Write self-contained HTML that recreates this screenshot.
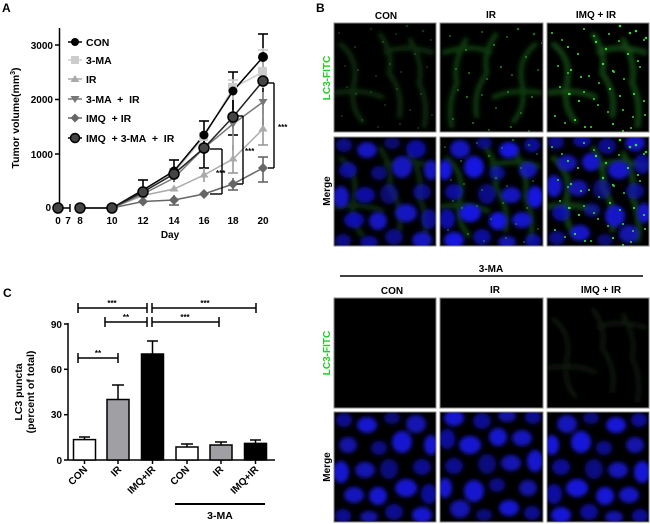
<!DOCTYPE html>
<html><head><meta charset="utf-8"><style>
html,body{margin:0;padding:0;background:#fff;}
svg{display:block;font-family:"Liberation Sans",Arial,sans-serif;font-weight:bold;}
text{white-space:pre;}
</style></head><body>
<svg width="650" height="524" viewBox="0 0 650 524" xmlns="http://www.w3.org/2000/svg">
<defs>
<filter id="bl" x="-10%" y="-10%" width="120%" height="120%"><feGaussianBlur stdDeviation="2"/></filter>
<filter id="bh" x="-10%" y="-10%" width="120%" height="120%"><feGaussianBlur stdDeviation="2.5"/></filter>
<clipPath id="cp"><rect x="0" y="0" width="102" height="109"/></clipPath>
<g id="nuc" filter="url(#bl)">
<ellipse cx="10" cy="8" rx="8" ry="7" opacity="0.7"/><ellipse cx="33" cy="13" rx="10" ry="8"/><ellipse cx="58" cy="6" rx="8" ry="6" opacity="0.6"/>
<ellipse cx="82" cy="12" rx="10" ry="9" opacity="0.85"/><ellipse cx="97" cy="33" rx="7" ry="10"/><ellipse cx="14" cy="33" rx="9" ry="8" opacity="0.8"/>
<ellipse cx="45" cy="36" rx="8" ry="7" opacity="0.65"/><ellipse cx="68" cy="30" rx="10" ry="11"/><ellipse cx="88" cy="55" rx="9" ry="8" opacity="0.7"/>
<ellipse cx="7" cy="60" rx="8" ry="11"/><ellipse cx="31" cy="58" rx="10" ry="8" opacity="0.85"/><ellipse cx="55" cy="57" rx="9" ry="10" opacity="0.6"/>
<ellipse cx="72" cy="76" rx="11" ry="9"/><ellipse cx="95" cy="82" rx="8" ry="10" opacity="0.75"/><ellipse cx="20" cy="83" rx="10" ry="8" opacity="0.9"/>
<ellipse cx="44" cy="84" rx="9" ry="9"/><ellipse cx="60" cy="100" rx="9" ry="8" opacity="0.7"/><ellipse cx="88" cy="103" rx="10" ry="8"/>
<ellipse cx="9" cy="104" rx="8" ry="7" opacity="0.7"/><ellipse cx="35" cy="105" rx="9" ry="6" opacity="0.8"/>
</g>
<g id="dots">
<circle cx="5" cy="10" r="1"/><circle cx="21" cy="24" r="1.1"/><circle cx="37" cy="6" r="1"/><circle cx="49" cy="19" r="1.2"/>
<circle cx="62" cy="11" r="1"/><circle cx="73" cy="3" r="1.3"/><circle cx="89" cy="8" r="1.3"/><circle cx="97" cy="17" r="1"/>
<circle cx="11" cy="43" r="1"/><circle cx="24" cy="47" r="1.1"/><circle cx="42" cy="53" r="1"/><circle cx="56" cy="41" r="1.2"/>
<circle cx="67" cy="49" r="1"/><circle cx="81" cy="31" r="1.1"/><circle cx="93" cy="44" r="1"/><circle cx="13" cy="64" r="1"/>
<circle cx="22" cy="71" r="1.2"/><circle cx="37" cy="69" r="1"/><circle cx="51" cy="82" r="1"/><circle cx="63" cy="66" r="1.1"/>
<circle cx="76" cy="87" r="1"/><circle cx="87" cy="71" r="1.1"/><circle cx="98" cy="92" r="1"/><circle cx="8" cy="93" r="1"/>
<circle cx="28" cy="97" r="1.1"/><circle cx="44" cy="104" r="1"/><circle cx="66" cy="101" r="1.1"/><circle cx="84" cy="105" r="1"/>
</g>
<g id="haze" filter="url(#bh)" fill="none">
<path d="M5 20 Q25 35 20 60 Q15 85 30 100 M45 10 Q60 30 55 50 Q70 70 65 95 M75 15 Q90 40 85 60 Q95 80 90 105 M0 70 Q30 65 50 75 M50 30 Q70 20 100 30" stroke-width="5"/>
</g>
</defs>

<!-- ================= Panel A ================= -->
<text x="2" y="12" font-size="12">A</text>
<g stroke="#000" stroke-width="1.5" fill="none">
<line x1="59.5" y1="28" x2="59.5" y2="208"/>
<line x1="59.5" y1="208" x2="70" y2="208"/>
<line x1="70" y1="204" x2="70" y2="212"/>
<line x1="55" y1="45" x2="59.5" y2="45"/><line x1="55" y1="99.5" x2="59.5" y2="99.5"/><line x1="55" y1="154" x2="59.5" y2="154"/>
</g>
<g font-size="10" text-anchor="end">
<text x="53" y="49">3000</text><text x="53" y="103">2000</text><text x="53" y="158">1000</text><text x="51" y="211">0</text>
</g>
<g font-size="10" text-anchor="middle">
<text x="58" y="224">0</text><text x="68" y="224">7</text><text x="80" y="224">8</text><text x="112" y="224">10</text>
<text x="143" y="224">12</text><text x="174" y="224">14</text><text x="204" y="224">16</text><text x="233" y="224">18</text><text x="263" y="224">20</text>
<text x="170" y="238">Day</text>
</g>
<text transform="translate(19,118) rotate(-90)" font-size="10.5" text-anchor="middle">Tumor volume(mm<tspan font-size="7" dy="-4">3</tspan><tspan dy="4">)</tspan></text>

<g stroke="#000" stroke-width="1.6">
<line x1="263" y1="34" x2="263" y2="80"/><line x1="258" y1="34" x2="268" y2="34"/>
<line x1="233" y1="72" x2="233" y2="110"/><line x1="228" y1="72" x2="238" y2="72"/>
<line x1="204" y1="121" x2="204" y2="150"/><line x1="199" y1="121" x2="209" y2="121"/>
<line x1="174" y1="160" x2="174" y2="182"/><line x1="169" y1="160" x2="179" y2="160"/>
<line x1="143" y1="180" x2="143" y2="200"/><line x1="138" y1="180" x2="148" y2="180"/>
<line x1="263" y1="60" x2="263" y2="130"/><line x1="233" y1="99" x2="233" y2="135"/><line x1="228" y1="135" x2="238" y2="135"/>
<line x1="204" y1="135" x2="204" y2="168"/><line x1="199" y1="168" x2="209" y2="168"/>
</g>
<g stroke="#ccc" stroke-width="1.6"><line x1="263" y1="48" x2="263" y2="88"/><line x1="258" y1="50" x2="268" y2="50"/><line x1="233" y1="80" x2="233" y2="100"/><line x1="228" y1="80" x2="238" y2="80"/></g>
<g stroke="#999" stroke-width="1.6">
<line x1="263" y1="115" x2="263" y2="145"/><line x1="258" y1="145" x2="268" y2="145"/>
<line x1="233" y1="145" x2="233" y2="173"/><line x1="228" y1="173" x2="238" y2="173"/>
<line x1="204" y1="168" x2="204" y2="182"/><line x1="233" y1="120" x2="233" y2="150"/><line x1="263" y1="92" x2="263" y2="118"/>
</g>
<g stroke="#666" stroke-width="1.6">
<line x1="263" y1="157" x2="263" y2="182"/><line x1="258" y1="182" x2="268" y2="182"/><line x1="258" y1="157" x2="268" y2="157"/>
<line x1="233" y1="178" x2="233" y2="190"/><line x1="228" y1="190" x2="238" y2="190"/>
<line x1="174" y1="195" x2="174" y2="205"/><line x1="169" y1="205" x2="179" y2="205"/>
</g>

<g fill="none" stroke-width="1.5">
<polyline stroke="#666" points="80,208 112,208 143,201.5 174,200 204,194 233,184 263,168"/>
<polyline stroke="#aaa" points="80,208 112,208 143,195.5 174,189 204,175 233,159 263,129"/>
<polyline stroke="#777" points="80,208 112,208 143,194 174,178 204,148 233,124 263,102"/>
<polyline stroke="#ccc" points="80,208 112,208 143,192 174,173 204,137 233,88 263,72"/>
<polyline stroke="#000" points="80,208 112,208 143,190 174,171 204,135 233,91 263,57"/>
<polyline stroke="#222" points="80,208 112,208 143,192 174,174 204,148 233,117 263,81"/>
</g>
<g fill="#666"><path d="M143 196.5l5 5-5 5-5-5z"/><path d="M174 195l5 5-5 5-5-5z"/><path d="M204 189l5 5-5 5-5-5z"/><path d="M233 179l5 5-5 5-5-5z"/><path d="M263 163l5 5-5 5-5-5z"/></g>
<g fill="#aaa"><path d="M143 191l4.5 7h-9z"/><path d="M174 184.5l4.5 7h-9z"/><path d="M204 170.5l4.5 7h-9z"/><path d="M233 154.5l4.5 7h-9z"/><path d="M263 124.5l4.5 7h-9z"/></g>
<g fill="#777"><path d="M174 182l4.5-7h-9z"/><path d="M204 152l4.5-7h-9z"/><path d="M233 128l4.5-7h-9z"/><path d="M263 106l4.5-7h-9z"/></g>
<g fill="#ccc"><rect x="169" y="168" width="9" height="9"/><rect x="199" y="132" width="9" height="9"/><rect x="228" y="83" width="9" height="9"/><rect x="258" y="67" width="9" height="9"/></g>
<g fill="#000"><circle cx="174" cy="171" r="4.5"/><circle cx="204" cy="135" r="4.5"/><circle cx="233" cy="91" r="4.5"/><circle cx="263" cy="57" r="5"/></g>
<g fill="#444" stroke="#000" stroke-width="1.5">
<circle cx="58" cy="208" r="5"/><circle cx="80" cy="208" r="5"/><circle cx="112" cy="208" r="5"/>
<circle cx="143" cy="192" r="5"/><circle cx="174" cy="174" r="5"/><circle cx="204" cy="148" r="5"/><circle cx="233" cy="117" r="5"/><circle cx="263" cy="81" r="5"/>
</g>

<g stroke="#000" stroke-width="1.4">
<line x1="222" y1="149" x2="222" y2="194"/><line x1="210" y1="149" x2="222" y2="149"/><line x1="210" y1="194" x2="222" y2="194"/>
<line x1="243" y1="116" x2="243" y2="184"/><line x1="237" y1="116" x2="243" y2="116"/><line x1="237" y1="184" x2="243" y2="184"/>
<line x1="274" y1="83" x2="274" y2="168"/><line x1="268" y1="83" x2="274" y2="83"/><line x1="268" y1="168" x2="274" y2="168"/>
</g>
<g font-size="8"><text x="216" y="176">***</text><text x="245" y="154">***</text><text x="278" y="130">***</text></g>

<g stroke-width="1.5">
<line x1="68" y1="42" x2="82" y2="42" stroke="#000"/><circle cx="75" cy="42" r="4" fill="#000"/>
<line x1="68" y1="60" x2="82" y2="60" stroke="#ccc"/><rect x="71" y="56" width="8" height="8" fill="#ccc"/>
<line x1="68" y1="79" x2="82" y2="79" stroke="#aaa"/><path d="M75 75l4.5 7h-9z" fill="#aaa"/>
<line x1="68" y1="99" x2="82" y2="99" stroke="#777"/><path d="M75 103l4.5-7h-9z" fill="#777"/>
<line x1="68" y1="118" x2="82" y2="118" stroke="#666"/><path d="M75 113.5l4.5 4.5-4.5 4.5-4.5-4.5z" fill="#666"/>
<line x1="68" y1="138" x2="82" y2="138" stroke="#000"/><circle cx="75" cy="138" r="4.5" fill="#444" stroke="#000"/>
</g>
<g font-size="10.5">
<text x="86" y="46">CON</text><text x="86" y="64">3-MA</text><text x="86" y="83">IR</text>
<text x="86" y="103">3-MA  +  IR</text><text x="86" y="122">IMQ  + IR</text><text x="86" y="142">IMQ  + 3-MA  +  IR</text>
</g>

<!-- ================= Panel C ================= -->
<text x="3" y="297" font-size="12">C</text>
<g stroke="#000" stroke-width="1.5">
<line x1="68" y1="323" x2="68" y2="460"/><line x1="68" y1="460" x2="275" y2="460"/>
<line x1="64" y1="324" x2="68" y2="324"/><line x1="64" y1="369.3" x2="68" y2="369.3"/><line x1="64" y1="414.7" x2="68" y2="414.7"/><line x1="64" y1="460" x2="68" y2="460"/>
<line x1="84.5" y1="460" x2="84.5" y2="464"/><line x1="118" y1="460" x2="118" y2="464"/><line x1="152.5" y1="460" x2="152.5" y2="464"/>
<line x1="187" y1="460" x2="187" y2="464"/><line x1="221" y1="460" x2="221" y2="464"/><line x1="255.5" y1="460" x2="255.5" y2="464"/>
</g>
<g font-size="10" text-anchor="end"><text x="62" y="328">90</text><text x="62" y="373">60</text><text x="62" y="418">30</text><text x="62" y="464">0</text></g>
<text transform="translate(22,392) rotate(-90)" font-size="10.5" text-anchor="middle">LC3 puncta</text>
<text transform="translate(34,392) rotate(-90)" font-size="10.5" text-anchor="middle">(percent of total)</text>
<g stroke="#000" stroke-width="1.5">
<line x1="84.5" y1="437" x2="84.5" y2="440"/><line x1="79" y1="437" x2="90" y2="437"/>
<line x1="118" y1="385" x2="118" y2="400"/><line x1="112" y1="385" x2="124" y2="385"/>
<line x1="152.5" y1="341" x2="152.5" y2="354"/><line x1="147" y1="341" x2="158" y2="341"/>
<line x1="187" y1="444" x2="187" y2="447"/><line x1="181" y1="444" x2="193" y2="444"/>
<line x1="221" y1="442" x2="221" y2="445"/><line x1="215" y1="442" x2="227" y2="442"/>
<line x1="255.5" y1="440" x2="255.5" y2="443"/><line x1="250" y1="440" x2="261" y2="440"/>
</g>
<g stroke="#000" stroke-width="1.5">
<rect x="73.5" y="439.6" width="22" height="20.4" fill="#fff"/>
<rect x="107" y="399.5" width="22" height="60.5" fill="#a0a0a4"/>
<rect x="141.5" y="354" width="22" height="106" fill="#000"/>
<rect x="176" y="447" width="22" height="13" fill="#fff"/>
<rect x="210" y="445" width="22" height="15" fill="#a0a0a4"/>
<rect x="244.5" y="443.4" width="22" height="16.6" fill="#000"/>
</g>
<g font-size="10" text-anchor="end">
<text transform="translate(88,470) rotate(-45)">CON</text>
<text transform="translate(122,470) rotate(-45)">IR</text>
<text transform="translate(156,470) rotate(-45)">IMQ+IR</text>
<text transform="translate(190,470) rotate(-45)">CON</text>
<text transform="translate(224,470) rotate(-45)">IR</text>
<text transform="translate(259,470) rotate(-45)">IMQ+IR</text>
</g>
<line x1="175" y1="504" x2="265" y2="504" stroke="#000" stroke-width="2"/>
<text x="220" y="519" font-size="10.5" text-anchor="middle">3-MA</text>
<g stroke="#000" stroke-width="1.5">
<line x1="78" y1="308" x2="147" y2="308"/><line x1="78" y1="303" x2="78" y2="313"/><line x1="147" y1="303" x2="147" y2="313"/>
<line x1="152" y1="308" x2="256" y2="308"/><line x1="152" y1="303" x2="152" y2="313"/><line x1="256" y1="303" x2="256" y2="313"/>
<line x1="105" y1="322" x2="147" y2="322"/><line x1="105" y1="317" x2="105" y2="327"/><line x1="147" y1="317" x2="147" y2="327"/>
<line x1="152" y1="322" x2="219" y2="322"/><line x1="152" y1="317" x2="152" y2="327"/><line x1="219" y1="317" x2="219" y2="327"/>
<line x1="78" y1="358" x2="118" y2="358"/><line x1="78" y1="353" x2="78" y2="363"/><line x1="118" y1="353" x2="118" y2="363"/>
</g>
<g font-size="8" text-anchor="middle">
<text x="112" y="306">***</text><text x="205" y="306">***</text><text x="126" y="320">**</text><text x="185" y="320">***</text><text x="98" y="356">**</text>
</g>

<!-- ================= Panel B ================= -->
<text x="316" y="12" font-size="12">B</text>
<g font-size="10" text-anchor="middle">
<text x="386" y="19">CON</text><text x="491" y="18">IR</text><text x="596" y="18">IMQ + IR</text>
<text x="491" y="272">3-MA</text>
<text x="392" y="294">CON</text><text x="495" y="293">IR</text><text x="601" y="293">IMQ + IR</text>
</g>
<line x1="340" y1="276" x2="643" y2="276" stroke="#000" stroke-width="1.5"/>
<g font-size="10" text-anchor="middle">
<text transform="translate(330,78) rotate(-90)" fill="#22cc22">LC3-FITC</text>
<text transform="translate(330,191) rotate(-90)">Merge</text>
<text transform="translate(330,353) rotate(-90)" fill="#22cc22">LC3-FITC</text>
<text transform="translate(330,467) rotate(-90)">Merge</text>
</g>

<g transform="translate(334,23)"><rect width="102" height="109" fill="#000"/><g clip-path="url(#cp)"><use href="#haze" stroke="#0b2a0b"/><use href="#dots" fill="#2a6a2a" opacity="0.5"/></g></g>
<g transform="translate(440,23)"><rect width="103" height="109" fill="#000"/><g clip-path="url(#cp)"><use href="#haze" stroke="#0f3a0f" transform="translate(102,0) scale(-1,1)"/><use href="#dots" fill="#2f9a2f" opacity="0.7" transform="translate(5,3)"/></g></g>
<g transform="translate(547,23)"><rect width="102" height="109" fill="#000"/><g clip-path="url(#cp)"><use href="#haze" stroke="#154a15"/><use href="#dots" fill="#3fdc3f"/><use href="#dots" fill="#3acc3a" transform="translate(10,7)"/></g></g>
<g transform="translate(334,137)"><rect width="102" height="109" fill="#000"/><g clip-path="url(#cp)"><use href="#haze" stroke="#0b2a0b"/><use href="#nuc" fill="#1212c0"/></g></g>
<g transform="translate(440,137)"><rect width="103" height="109" fill="#000"/><g clip-path="url(#cp)"><use href="#haze" stroke="#0f3a0f"/><use href="#nuc" fill="#1616e0" transform="translate(102,0) scale(-1,1)"/><use href="#dots" fill="#2f9a2f" opacity="0.6"/></g></g>
<g transform="translate(547,137)"><rect width="102" height="109" fill="#000"/><g clip-path="url(#cp)"><use href="#haze" stroke="#154a15"/><use href="#nuc" fill="#1414c8" transform="translate(0,109) scale(1,-1)"/><use href="#dots" fill="#3fdc3f"/><use href="#dots" fill="#3acc3a" transform="translate(10,7)"/></g></g>
<g transform="translate(334,298)"><rect width="102" height="110" fill="#000"/></g>
<g transform="translate(440,298)"><rect width="103" height="110" fill="#000"/></g>
<g transform="translate(547,298)"><rect width="102" height="110" fill="#000"/><g clip-path="url(#cp)"><use href="#haze" stroke="#071807"/></g></g>
<g transform="translate(334,412)"><rect width="102" height="110" fill="#000"/><g clip-path="url(#cp)"><use href="#nuc" fill="#1515d0"/></g></g>
<g transform="translate(440,412)"><rect width="103" height="110" fill="#000"/><g clip-path="url(#cp)"><use href="#nuc" fill="#1515d0" transform="translate(102,109) scale(-1,-1)"/></g></g>
<g transform="translate(547,412)"><rect width="102" height="110" fill="#000"/><g clip-path="url(#cp)"><use href="#nuc" fill="#1515d8" transform="translate(102,0) scale(-1,1)"/></g></g>
<g fill="none" stroke="#888" stroke-width="1">
<rect x="334" y="23" width="102" height="109"/><rect x="440" y="23" width="103" height="109"/><rect x="547" y="23" width="102" height="109"/>
<rect x="334" y="137" width="102" height="109"/><rect x="440" y="137" width="103" height="109"/><rect x="547" y="137" width="102" height="109"/>
<rect x="334" y="298" width="102" height="110"/><rect x="440" y="298" width="103" height="110"/><rect x="547" y="298" width="102" height="110"/>
<rect x="334" y="412" width="102" height="110"/><rect x="440" y="412" width="103" height="110"/><rect x="547" y="412" width="102" height="110"/>
</g>
</svg>
</body></html>
